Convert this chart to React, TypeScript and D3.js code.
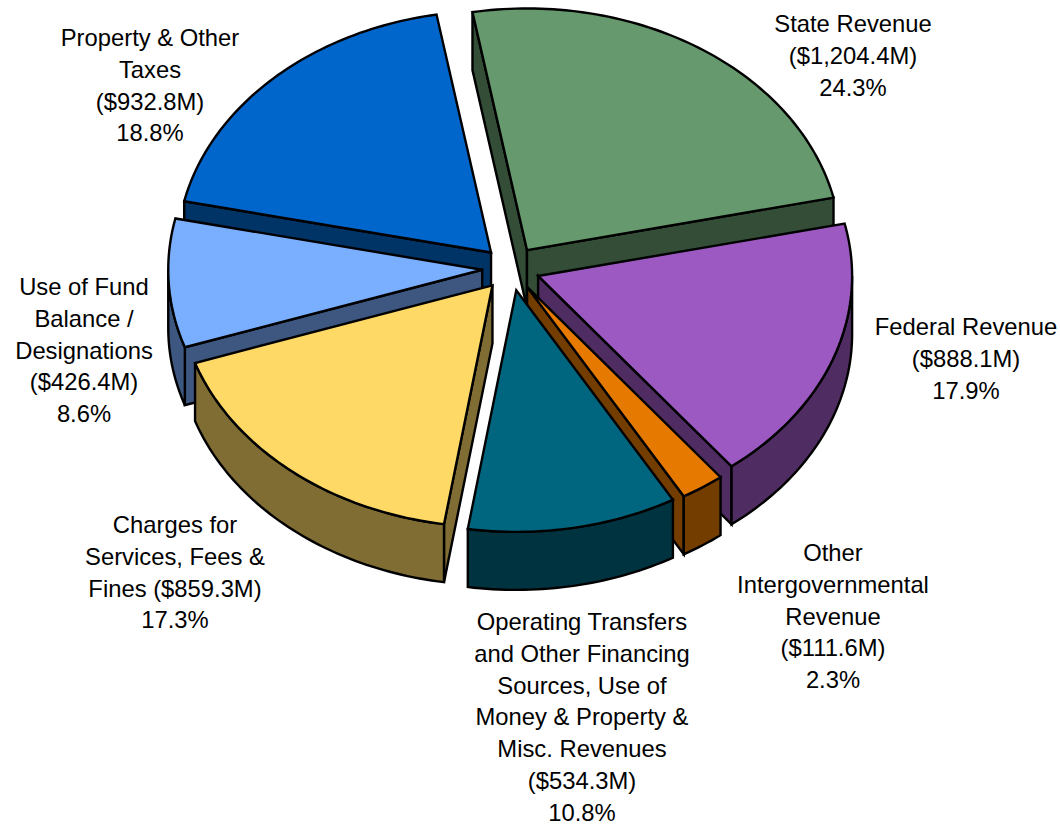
import React from 'react';
import * as d3 from 'd3';

const sources = ['State Revenue', 'Federal Revenue', 'Other Intergovernmental Revenue', 'Operating Transfers', 'Charges for Services', 'Use of Fund Balance', 'Property & Other Taxes'];
const amounts = [1204.4, 888.1, 111.6, 534.3, 859.3, 426.4, 932.8];
const topColors = ['#66996e', '#9c59c2', '#e67a00', '#006680', '#ffd966', '#7aaeff', '#0066cc'];
const wallColors = ['#334d37', '#4f2c61', '#733d00', '#003340', '#806d33', '#3d5780', '#003366'];

// back to front
const drawOrder = [6, 0, 5, 1, 4, 2, 3];

const labelLines = [
  ['State Revenue', '($1,204.4M)', '24.3%'],
  ['Federal Revenue', '($888.1M)', '17.9%'],
  ['Other', 'Intergovernmental', 'Revenue', '($111.6M)', '2.3%'],
  ['Operating Transfers', 'and Other Financing', 'Sources, Use of', 'Money & Property &', 'Misc. Revenues', '($534.3M)', '10.8%'],
  ['Charges for', 'Services, Fees &', 'Fines ($859.3M)', '17.3%'],
  ['Use of Fund', 'Balance /', 'Designations', '($426.4M)', '8.6%'],
  ['Property & Other', 'Taxes', '($932.8M)', '18.8%'],
];
const labelX = [853, 966, 833, 582, 175, 84, 150];
const labelY = [32, 335, 561, 630, 533, 295, 46];

const cx = 511;
const cy = 268.5;
const rx = 314;
const ry = 241.6;
const depth = 58;
const explode = 28.8;
const lineStep = 31.8;

const slices = d3.pie<number>().sort(null)
  .startAngle(-10 * Math.PI / 180)
  .endAngle(350 * Math.PI / 180)(amounts);

// ellipse point for a clockwise-from-top angle
const px = (a: number) => rx * Math.sin(a);
const py = (a: number) => -ry * Math.cos(a);

const line = d3.line();

function arcPoints(a0: number, a1: number, ox: number, oy: number): [number, number][] {
  const n = Math.max(2, Math.ceil((a1 - a0) / 0.02));
  return d3.range(n + 1).map(i => {
    const a = a0 + (a1 - a0) * i / n;
    return [ox + px(a), oy + py(a)] as [number, number];
  });
}

function Slice({ index }: { index: number }) {
  const s = slices[index];
  const mid = (s.startAngle + s.endAngle) / 2;
  const ox = cx + explode * Math.sin(mid);
  const oy = cy - explode * (ry / rx) * Math.cos(mid);
  const a0 = s.startAngle;
  const a1 = s.endAngle;

  const wall = wallColors[index];
  const stroke = { stroke: '#000', strokeWidth: 2.4, strokeLinejoin: 'miter' as const, strokeMiterlimit: 4 };

  const radialWall = (a: number) => line([
    [ox, oy], [ox + px(a), oy + py(a)],
    [ox + px(a), oy + py(a) + depth], [ox, oy + depth],
  ]) + 'Z';

  // outer rim only shows on the lower half of the ellipse
  const rimFrom = Math.max(a0, Math.PI / 2);
  const rimTo = Math.min(a1, 3 * Math.PI / 2);
  let rim: string | null = null;
  if (rimTo > rimFrom) {
    const upper = arcPoints(rimFrom, rimTo, ox, oy);
    const lower = arcPoints(rimFrom, rimTo, ox, oy + depth).reverse();
    rim = line([...upper, ...lower]) + 'Z';
  }

  const top = line([[ox, oy], ...arcPoints(a0, a1, ox, oy)]) + 'Z';

  return (
    <g>
      {Math.sin(a0) < 0 && <path d={radialWall(a0)} fill={wall} {...stroke} />}
      {Math.sin(a1) > 0 && <path d={radialWall(a1)} fill={wall} {...stroke} />}
      {rim && <path d={rim} fill={wall} {...stroke} />}
      <path d={top} fill={topColors[index]} {...stroke} />
    </g>
  );
}

export default function App() {
  return (
    <svg width={1060} height={824} style={{ position: 'absolute', left: 0, top: 0, background: '#fff' }}>
      {drawOrder.map(i => <Slice key={sources[i]} index={i} />)}
      <g fontFamily="'Liberation Sans', Arial, sans-serif" fontSize={23.8} fill="#000" textAnchor="middle">
        {labelLines.map((lines, i) => (
          <text key={sources[i]}>
            {lines.map((t, j) => (
              <tspan key={j} x={labelX[i]} y={labelY[i] + j * lineStep}>{t}</tspan>
            ))}
          </text>
        ))}
      </g>
    </svg>
  );
}
